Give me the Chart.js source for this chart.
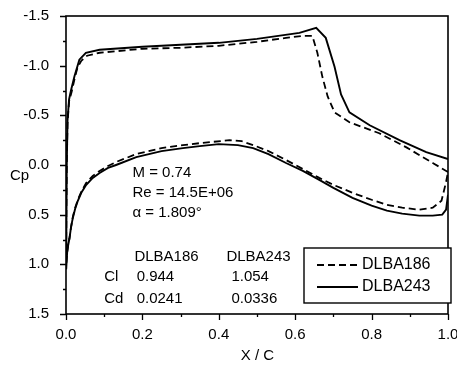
<!DOCTYPE html>
<html>
<head>
<meta charset="utf-8">
<script src="https://cdn.jsdelivr.net/npm/chart.js@4/dist/chart.umd.min.js"></script>
<style>
  html, body { margin: 0; padding: 0; background: #fff; }
  #wrap { width: 457px; height: 366px; }
</style>
</head>
<body>
<div id="wrap"><canvas id="cp"></canvas></div>
<script>
// pressure distributions, x/c and Cp, both surfaces run leading edge -> trailing edge
const xUpper186  = [0.0, 0.001, 0.002, 0.004, 0.008, 0.015, 0.022, 0.03, 0.04, 0.055, 0.088, 0.2, 0.3, 0.4, 0.5, 0.576, 0.62, 0.645, 0.658, 0.671, 0.685, 0.703, 0.742, 0.82, 0.89, 0.96, 1.0];
const cpUpper186 = [1.05, 0.5, 0.0, -0.42, -0.64, -0.74, -0.86, -0.98, -1.05, -1.1, -1.13, -1.17, -1.18, -1.2, -1.24, -1.28, -1.3, -1.3, -1.13, -0.89, -0.69, -0.53, -0.43, -0.32, -0.18, -0.02, 0.07];
const xLower186  = [0.0, 0.003, 0.006, 0.009, 0.013, 0.018, 0.024, 0.031, 0.04, 0.053, 0.07, 0.088, 0.11, 0.131, 0.184, 0.25, 0.306, 0.35, 0.428, 0.46, 0.49, 0.53, 0.576, 0.62, 0.663, 0.7, 0.75, 0.8, 0.84, 0.88, 0.925, 0.96, 0.983, 0.995, 1.0];
const cpLower186 = [1.05, 0.88, 0.8, 0.74, 0.63, 0.52, 0.43, 0.35, 0.27, 0.18, 0.11, 0.06, 0.01, -0.03, -0.11, -0.17, -0.2, -0.22, -0.25, -0.24, -0.2, -0.14, -0.05, 0.04, 0.13, 0.2, 0.28, 0.35, 0.4, 0.43, 0.45, 0.43, 0.36, 0.17, 0.07];

const xUpper243  = [0.0, 0.001, 0.002, 0.004, 0.008, 0.013, 0.022, 0.035, 0.052, 0.088, 0.2, 0.3, 0.4, 0.5, 0.611, 0.655, 0.68, 0.703, 0.72, 0.742, 0.795, 0.873, 0.943, 1.0];
const cpUpper243 = [1.05, 0.5, 0.0, -0.45, -0.66, -0.75, -0.89, -1.06, -1.13, -1.16, -1.19, -1.21, -1.23, -1.27, -1.33, -1.38, -1.28, -0.99, -0.71, -0.53, -0.4, -0.25, -0.13, -0.06];
const xLower243  = [0.0, 0.003, 0.006, 0.009, 0.013, 0.018, 0.024, 0.031, 0.04, 0.053, 0.07, 0.088, 0.11, 0.131, 0.184, 0.25, 0.306, 0.35, 0.4, 0.45, 0.49, 0.53, 0.576, 0.62, 0.663, 0.7, 0.75, 0.8, 0.84, 0.88, 0.925, 0.96, 0.985, 0.995, 1.0];
const cpLower243 = [1.05, 0.88, 0.8, 0.74, 0.63, 0.53, 0.44, 0.36, 0.28, 0.2, 0.13, 0.08, 0.03, 0.0, -0.08, -0.14, -0.17, -0.19, -0.21, -0.2, -0.17, -0.11, -0.02, 0.06, 0.15, 0.23, 0.33, 0.41, 0.46, 0.49, 0.51, 0.51, 0.5, 0.45, 0.3];

const seriesNames = ['DLBA186', 'DLBA243'];
const coefRows = ['Cl', 'Cd'];
const coef186 = ['0.944', '0.0241'];
const coef243 = ['1.054', '0.0336'];
const flowLines = ['M = 0.74', 'Re = 14.5E+06', 'α = 1.809°'];

const xTicks = [0, 0.2, 0.4, 0.6, 0.8, 1.0];
const yTicks = [-1.5, -1.0, -0.5, 0.0, 0.5, 1.0, 1.5];

const FONT = '"Liberation Sans", Arial, sans-serif';

function toPoints(xs, ys) {
    return xs.map((x, i) => ({ x: x, y: ys[i] }));
}

// go round the section: upper surface back to the nose, then lower surface aft
function sectionPath(xU, cpU, xL, cpL) {
    return toPoints(xU, cpU).reverse().concat(toPoints(xL, cpL).slice(1));
}

const frameAndText = {
    id: 'frameAndText',
    afterDraw(chart) {
        const { ctx, chartArea: { top, right, bottom, left }, scales: { x, y } } = chart;

        ctx.save();
        ctx.strokeStyle = '#000';
        ctx.fillStyle = '#000';

        // box
        ctx.lineWidth = 1.6;
        ctx.strokeRect(left, top, right - left, bottom - top);

        // outward ticks, minor ones between the labelled values
        ctx.lineWidth = 1.3;
        ctx.beginPath();
        for (let i = 0; i <= 10; i++) {
            const px = Math.round(x.getPixelForValue(i / 10)) + 0.5;
            const len = i % 2 == 0 ? 6 : 3;
            ctx.moveTo(px, bottom);
            ctx.lineTo(px, bottom + len);
        }
        for (let i = -6; i <= 6; i++) {
            const py = Math.round(y.getPixelForValue(i / 4)) + 0.5;
            const len = i % 2 == 0 ? 6 : 3;
            ctx.moveTo(left, py);
            ctx.lineTo(left - len, py);
        }
        ctx.stroke();

        // axis titles
        ctx.font = '15px ' + FONT;
        ctx.textBaseline = 'middle';
        ctx.textAlign = 'left';
        ctx.fillText('Cp', 10, y.getPixelForValue(0.11));
        ctx.textAlign = 'center';
        ctx.fillText('X / C', (left + right) / 2 + 0.5, bottom + 42);

        // flow conditions and coefficients
        ctx.textAlign = 'left';
        const col0 = x.getPixelForValue(0.1);
        const col1 = x.getPixelForValue(0.185);
        const col2 = x.getPixelForValue(0.433);
        flowLines.forEach((t, i) => {
            ctx.fillText(t, x.getPixelForValue(0.174), y.getPixelForValue(0.08 + i * 0.2));
        });
        ctx.fillText(seriesNames[0], x.getPixelForValue(0.179), y.getPixelForValue(0.92));
        ctx.fillText(seriesNames[1], x.getPixelForValue(0.42), y.getPixelForValue(0.92));
        coefRows.forEach((t, i) => {
            const py = y.getPixelForValue(1.13 + i * 0.215);
            ctx.fillText(t, col0, py);
            ctx.fillText(coef186[i], col1, py);
            ctx.fillText(coef243[i], col2, py);
        });

        // legend box
        const bx = right - 144, by = bottom - 66, bw = 147, bh = 55;
        ctx.fillStyle = '#fff';
        ctx.fillRect(bx, by, bw, bh);
        ctx.fillStyle = '#000';
        ctx.lineWidth = 1.4;
        ctx.strokeRect(bx, by, bw, bh);
        chart.data.datasets.forEach((ds, i) => {
            const ly = by + 17 + i * 22;
            ctx.lineWidth = ds.borderWidth;
            ctx.setLineDash(ds.borderDash || []);
            ctx.beginPath();
            ctx.moveTo(bx + 13, ly);
            ctx.lineTo(bx + 54, ly);
            ctx.stroke();
            ctx.setLineDash([]);
            ctx.font = '16px ' + FONT;
            ctx.fillText(ds.label, bx + 58, ly);
        });

        ctx.restore();
    }
};

const config = {
    type: 'line',
    data: {
        datasets: [
            {
                label: seriesNames[0],
                data: sectionPath(xUpper186, cpUpper186, xLower186, cpLower186),
                borderColor: '#000',
                borderWidth: 1.8,
                borderDash: [7, 4],
                pointRadius: 0,
                tension: 0,
                fill: false
            },
            {
                label: seriesNames[1],
                data: sectionPath(xUpper243, cpUpper243, xLower243, cpLower243),
                borderColor: '#000',
                borderWidth: 1.9,
                pointRadius: 0,
                tension: 0,
                fill: false
            }
        ]
    },
    options: {
        responsive: true,
        maintainAspectRatio: false,
        animation: false,
        layout: { padding: { top: 16, right: 9, left: 0, bottom: 0 } },
        plugins: {
            legend: { display: false },
            tooltip: { enabled: false }
        },
        scales: {
            x: {
                type: 'linear',
                min: 0,
                max: 1,
                afterBuildTicks: (scale) => { scale.ticks = xTicks.map(v => ({ value: v })); },
                afterFit: (scale) => {
                    scale.height = 52;
                    scale.paddingLeft = 0;
                    scale.paddingRight = 0;
                },
                grid: { display: false },
                border: { display: false },
                ticks: {
                    color: '#000',
                    font: { family: FONT, size: 15 },
                    padding: 4,
                    maxRotation: 0,
                    autoSkip: false,
                    callback: (v) => Number(v).toFixed(1)
                }
            },
            y: {
                type: 'linear',
                min: -1.5,
                max: 1.5,
                reverse: true,
                afterBuildTicks: (scale) => { scale.ticks = yTicks.map(v => ({ value: v })); },
                afterFit: (scale) => {
                    scale.width = 66;
                    scale.paddingTop = 0;
                    scale.paddingBottom = 0;
                },
                grid: { display: false },
                border: { display: false },
                ticks: {
                    color: '#000',
                    font: { family: FONT, size: 15 },
                    padding: 9,
                    autoSkip: false,
                    callback: (v) => Number(v).toFixed(1)
                }
            }
        }
    },
    plugins: [frameAndText]
};

const ctx = document.getElementById('cp').getContext('2d');
window.cpChart = new Chart(ctx, config);
</script>
</body>
</html>
